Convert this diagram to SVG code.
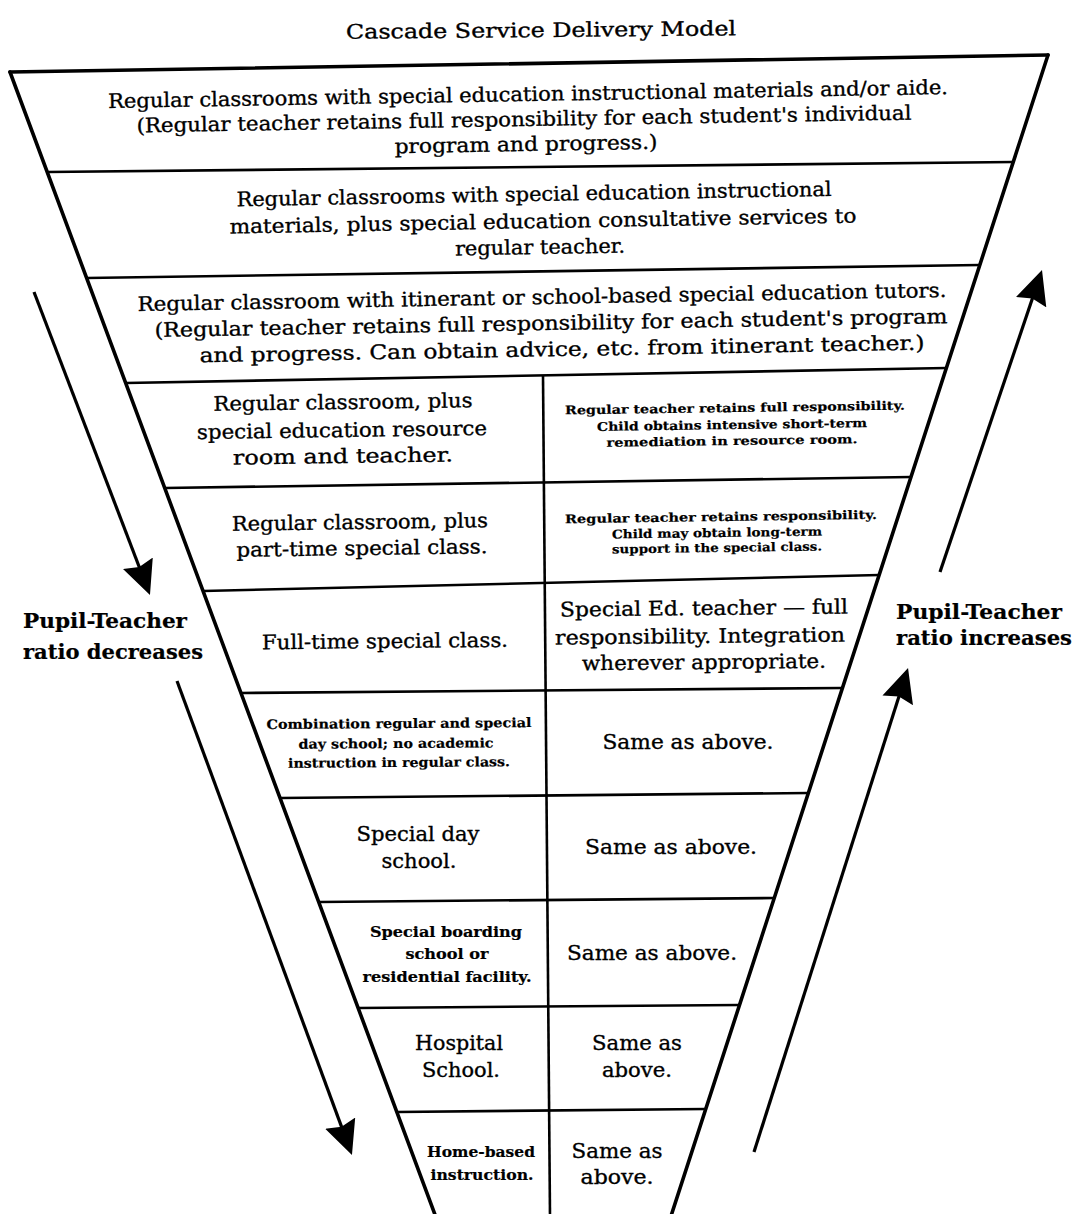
<svg xmlns="http://www.w3.org/2000/svg" width="1074" height="1214" viewBox="0 0 1074 1214">
<style>
.t{font-family:"DejaVu Serif","Liberation Serif",serif;font-size:20px;fill:#000;stroke:#000;stroke-width:0.35;text-anchor:middle}
.b12{font-size:12px;font-weight:bold;stroke-width:0.2}
.b13{font-size:13px;font-weight:bold;stroke-width:0.2}
.b15{font-size:15px;font-weight:bold;stroke-width:0.2}
.lab{font-size:20px;font-weight:bold;text-anchor:start;stroke-width:0.2}
.edge{stroke:#000;stroke-width:3.6;fill:none;stroke-linecap:round}
.hl{stroke:#000;stroke-width:2.6;fill:none}
.arr{stroke:#000;stroke-width:3.2;fill:none;marker-end:url(#ah)}
</style>
<defs>
<marker id="ah" markerUnits="userSpaceOnUse" markerWidth="34" markerHeight="32" viewBox="0 0 34 32" refX="24" refY="16" orient="auto">
<path d="M0,0 L34,16 L0,32 L4,16 z" fill="#000"/>
</marker>
</defs>
<rect width="1074" height="1214" fill="#fff"/>
<g id="title"><text class="t" x="541" y="37" font-size="21" textLength="390" lengthAdjust="spacingAndGlyphs" transform="rotate(-0.5 541 30)">Cascade Service Delivery Model</text></g>
<g id="funnel">
<line class="edge" x1="10" y1="72" x2="1048" y2="55"/>
<line class="edge" x1="10" y1="72" x2="435.5" y2="1216"/>
<line class="edge" x1="1048" y1="55" x2="671" y2="1216"/>
<line class="hl" x1="47.2" y1="172" x2="1013.3" y2="162"/>
<line class="hl" x1="86.6" y1="278" x2="979.8" y2="265"/>
<line class="hl" x1="125.6" y1="383" x2="946.4" y2="368"/>
<line class="hl" x1="164.8" y1="488" x2="911" y2="477"/>
<line class="hl" x1="203.1" y1="591" x2="879.2" y2="575"/>
<line class="hl" x1="241.1" y1="693" x2="842.5" y2="688"/>
<line class="hl" x1="280.2" y1="798" x2="808.4" y2="793"/>
<line class="hl" x1="318.8" y1="902" x2="774.3" y2="898"/>
<line class="hl" x1="358.2" y1="1008" x2="739.5" y2="1005"/>
<line class="hl" x1="396.9" y1="1112" x2="705.8" y2="1109"/>
<line class="hl" x1="543" y1="375.4" x2="550" y2="1216"/>
</g>
<g id="row1">
<text class="t" x="528" y="101" textLength="840" lengthAdjust="spacingAndGlyphs" transform="rotate(-0.95 528 94)">Regular classrooms with special education instructional materials and/or aide.</text>
<text class="t" x="524" y="126" textLength="775" lengthAdjust="spacingAndGlyphs" transform="rotate(-0.95 524 119)">(Regular teacher retains full responsibility for each student's individual</text>
<text class="t" x="526" y="151" textLength="263" lengthAdjust="spacingAndGlyphs" transform="rotate(-0.95 526 144)">program and progress.)</text>
</g>
<g id="row2">
<text class="t" x="534" y="201" textLength="595" lengthAdjust="spacingAndGlyphs" transform="rotate(-1 534 194)">Regular classrooms with special education instructional</text>
<text class="t" x="543" y="228" textLength="627" lengthAdjust="spacingAndGlyphs" transform="rotate(-1 543 221)">materials, plus special education consultative services to</text>
<text class="t" x="540" y="254" textLength="170" lengthAdjust="spacingAndGlyphs" transform="rotate(-1 540 247)">regular teacher.</text>
</g>
<g id="row3">
<text class="t" x="542" y="304" textLength="809" lengthAdjust="spacingAndGlyphs" transform="rotate(-1 542 297)">Regular classroom with itinerant or school-based special education tutors.</text>
<text class="t" x="551" y="330" textLength="793" lengthAdjust="spacingAndGlyphs" transform="rotate(-1 551 323)">(Regular teacher retains full responsibility for each student's program</text>
<text class="t" x="562" y="356" textLength="725" lengthAdjust="spacingAndGlyphs" transform="rotate(-1 562 349)">and progress. Can obtain advice, etc. from itinerant teacher.)</text>
</g>
<g id="row4-left">
<text class="t" x="343" y="409" textLength="259" lengthAdjust="spacingAndGlyphs" transform="rotate(-0.8 343 402)">Regular classroom, plus</text>
<text class="t" x="342" y="437" textLength="290" lengthAdjust="spacingAndGlyphs" transform="rotate(-0.8 342 430)">special education resource</text>
<text class="t" x="343" y="463" textLength="220" lengthAdjust="spacingAndGlyphs" transform="rotate(-0.8 343 456)">room and teacher.</text>
</g>
<g id="row4-right">
<text class="t b12" x="735" y="412" textLength="340" lengthAdjust="spacingAndGlyphs" transform="rotate(-0.8 735 408)">Regular teacher retains full responsibility.</text>
<text class="t b12" x="732" y="429" textLength="270" lengthAdjust="spacingAndGlyphs" transform="rotate(-0.8 732 425)">Child obtains intensive short-term</text>
<text class="t b12" x="732" y="445" textLength="251" lengthAdjust="spacingAndGlyphs" transform="rotate(-0.8 732 441)">remediation in resource room.</text>
</g>
<g id="row5-left">
<text class="t" x="360" y="529" textLength="256" lengthAdjust="spacingAndGlyphs" transform="rotate(-0.8 360 522)">Regular classroom, plus</text>
<text class="t" x="362" y="555" textLength="251" lengthAdjust="spacingAndGlyphs" transform="rotate(-0.8 362 548)">part-time special class.</text>
</g>
<g id="row5-right">
<text class="t b12" x="721" y="521" textLength="312" lengthAdjust="spacingAndGlyphs" transform="rotate(-0.8 721 517)">Regular teacher retains responsibility.</text>
<text class="t b12" x="717" y="537" textLength="210" lengthAdjust="spacingAndGlyphs" transform="rotate(-0.8 717 533)">Child may obtain long-term</text>
<text class="t b12" x="717" y="552" textLength="210" lengthAdjust="spacingAndGlyphs" transform="rotate(-0.8 717 548)">support in the special class.</text>
</g>
<g id="row6-left">
<text class="t" x="385" y="648" textLength="246" lengthAdjust="spacingAndGlyphs" transform="rotate(-0.6 385 641)">Full-time special class.</text>
</g>
<g id="row6-right">
<text class="t" x="704" y="615" textLength="288" lengthAdjust="spacingAndGlyphs" transform="rotate(-0.6 704 608)">Special Ed. teacher — full</text>
<text class="t" x="700" y="643" textLength="290" lengthAdjust="spacingAndGlyphs" transform="rotate(-0.6 700 636)">responsibility. Integration</text>
<text class="t" x="704" y="669" textLength="244" lengthAdjust="spacingAndGlyphs" transform="rotate(-0.6 704 662)">wherever appropriate.</text>
</g>
<g id="row7-left">
<text class="t b13" x="399" y="728" textLength="265" lengthAdjust="spacingAndGlyphs" transform="rotate(-0.4 399 724)">Combination regular and special</text>
<text class="t b13" x="396" y="748" textLength="195" lengthAdjust="spacingAndGlyphs" transform="rotate(-0.4 396 744)">day school; no academic</text>
<text class="t b13" x="399" y="767" textLength="222" lengthAdjust="spacingAndGlyphs" transform="rotate(-0.4 399 763)">instruction in regular class.</text>
</g>
<g id="row7-right">
<text class="t" x="688" y="749" textLength="171" lengthAdjust="spacingAndGlyphs">Same as above.</text>
</g>
<g id="row8-left">
<text class="t" x="418" y="841" textLength="123" lengthAdjust="spacingAndGlyphs">Special day</text>
<text class="t" x="419" y="868" textLength="75" lengthAdjust="spacingAndGlyphs">school.</text>
</g>
<g id="row8-right">
<text class="t" x="671" y="854" textLength="172" lengthAdjust="spacingAndGlyphs">Same as above.</text>
</g>
<g id="row9-left">
<text class="t b15" x="446" y="937" textLength="152" lengthAdjust="spacingAndGlyphs">Special boarding</text>
<text class="t b15" x="447" y="959" textLength="83" lengthAdjust="spacingAndGlyphs">school or</text>
<text class="t b15" x="447" y="982" textLength="169" lengthAdjust="spacingAndGlyphs">residential facility.</text>
</g>
<g id="row9-right">
<text class="t" x="652" y="960" textLength="170" lengthAdjust="spacingAndGlyphs">Same as above.</text>
</g>
<g id="row10-left">
<text class="t" x="459" y="1050" textLength="88" lengthAdjust="spacingAndGlyphs">Hospital</text>
<text class="t" x="461" y="1077" textLength="78" lengthAdjust="spacingAndGlyphs">School.</text>
</g>
<g id="row10-right">
<text class="t" x="637" y="1050" textLength="90" lengthAdjust="spacingAndGlyphs">Same as</text>
<text class="t" x="637" y="1077" textLength="70" lengthAdjust="spacingAndGlyphs">above.</text>
</g>
<g id="row11-left">
<text class="t b15" x="481" y="1157" textLength="108" lengthAdjust="spacingAndGlyphs">Home-based</text>
<text class="t b15" x="482" y="1180" textLength="103" lengthAdjust="spacingAndGlyphs">instruction.</text>
</g>
<g id="row11-right">
<text class="t" x="617" y="1158" textLength="91" lengthAdjust="spacingAndGlyphs">Same as</text>
<text class="t" x="617" y="1184" textLength="73" lengthAdjust="spacingAndGlyphs">above.</text>
</g>
<g id="label-left">
<text class="t lab" x="23" y="628" textLength="164" lengthAdjust="spacingAndGlyphs">Pupil-Teacher</text>
<text class="t lab" x="23" y="659" textLength="180" lengthAdjust="spacingAndGlyphs">ratio decreases</text>
</g>
<g id="label-right">
<text class="t lab" x="896" y="619" textLength="166" lengthAdjust="spacingAndGlyphs">Pupil-Teacher</text>
<text class="t lab" x="896" y="645" textLength="176" lengthAdjust="spacingAndGlyphs">ratio increases</text>
</g>
<g id="connectors">
<line class="arr" x1="34" y1="292" x2="146.4" y2="585.7"/>
<line class="arr" x1="177" y1="681" x2="348.5" y2="1145.6"/>
<line class="arr" x1="940" y1="572" x2="1038.8" y2="279.5"/>
<line class="arr" x1="754" y1="1152" x2="905" y2="677.5"/>
</g>
</svg>
